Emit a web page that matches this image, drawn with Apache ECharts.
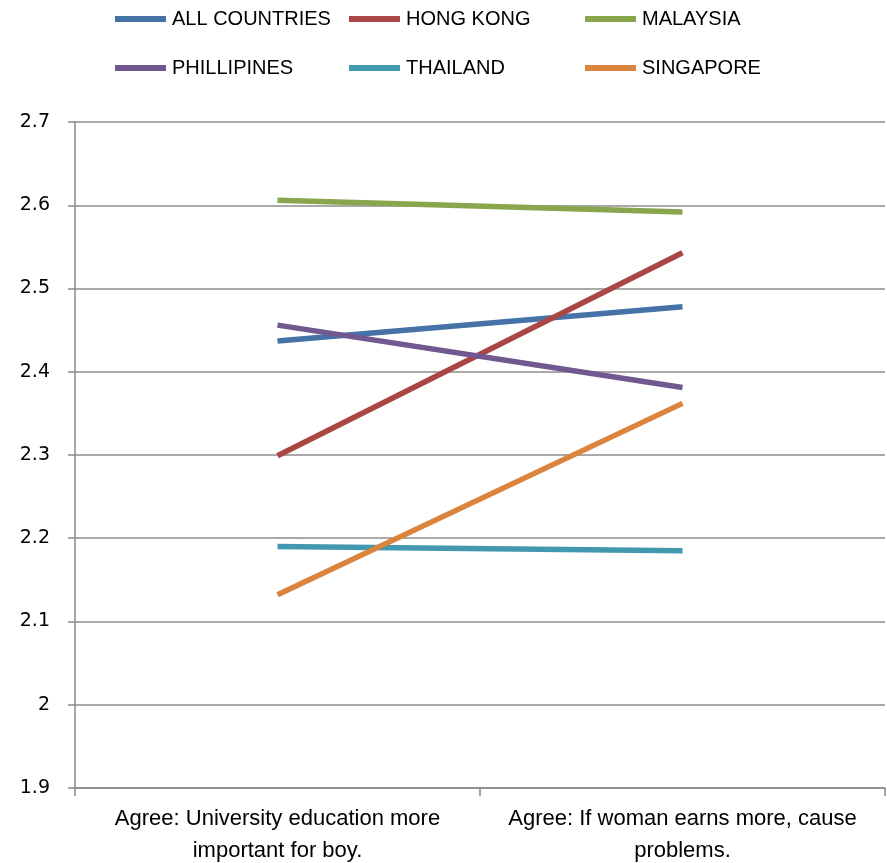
<!DOCTYPE html>
<html>
<head>
<meta charset="utf-8">
<script src="https://cdn.jsdelivr.net/npm/echarts@6/dist/echarts.min.js"></script>
<style>
  html, body { margin: 0; padding: 0; background: #fff; }
  #chart { width: 887px; height: 863px; }
</style>
</head>
<body>
<div id="chart"></div>
<script>
// Survey statements on the category axis
const categories = [
  'Agree: University education more\nimportant for boy.',
  'Agree: If woman earns more, cause\nproblems.'
];

// Mean agreement score per country group
const allCountries = [2.437, 2.478];
const hongKong     = [2.299, 2.543];
const malaysia     = [2.606, 2.592];
const phillipines  = [2.456, 2.381];
const thailand     = [2.190, 2.185];
const singapore    = [2.132, 2.362];

const yTicks = { min: 1.9, max: 2.7, interval: 0.1 };

const seriesDefs = [
  { name: 'ALL COUNTRIES', data: allCountries, color: '#4572A7' },
  { name: 'HONG KONG',     data: hongKong,     color: '#AA4643' },
  { name: 'MALAYSIA',      data: malaysia,     color: '#89A54E' },
  { name: 'PHILLIPINES',   data: phillipines,  color: '#71588F' },
  { name: 'THAILAND',      data: thailand,     color: '#4198AF' },
  { name: 'SINGAPORE',     data: singapore,    color: '#DB843D' }
];

const textFont = '"Liberation Sans", Arial, sans-serif';

// One legend entry per slot, laid out in a 3 x 2 grid
const legendCols = [110, 344, 580];
const legendRows = [4, 53];
const legends = seriesDefs.map((s, i) => ({
  data: [s.name],
  left: legendCols[i % 3],
  top: legendRows[Math.floor(i / 3)],
  icon: 'rect',
  itemWidth: 51,
  itemHeight: 6,
  itemGap: 0,
  selectedMode: false,
  textStyle: { fontFamily: textFont, fontSize: 20, color: '#000', padding: [0, 0, 0, 1] }
}));

const chart = echarts.init(document.getElementById('chart'), null, { renderer: 'canvas' });
chart.setOption({
  animation: false,
  backgroundColor: '#fff',
  legend: legends,
  grid: {
    left: 75, right: 2, top: 122, bottom: 75,
    containLabel: false, outerBoundsMode: 'none'
  },
  xAxis: {
    type: 'category',
    data: categories,
    boundaryGap: true,
    axisLine: { lineStyle: { color: '#888', width: 1.5 } },
    axisTick: { show: true, length: 8, lineStyle: { color: '#888', width: 1.5 } },
    axisLabel: {
      fontFamily: textFont, fontSize: 22, color: '#000',
      lineHeight: 32, margin: 15, interval: 0
    },
    splitLine: { show: false }
  },
  yAxis: {
    type: 'value',
    min: yTicks.min, max: yTicks.max, interval: yTicks.interval,
    axisLine: { show: true, lineStyle: { color: '#888', width: 1.5 } },
    axisTick: { show: true, length: 7, lineStyle: { color: '#888', width: 1.5 } },
    axisLabel: {
      fontFamily: '"DejaVu Sans", sans-serif', fontSize: 19, color: '#000', margin: 25,
      formatter: v => String(Math.round(v * 10) / 10)
    },
    splitLine: { show: true, lineStyle: { color: '#8c8c8c', width: 1.5 } }
  },
  series: seriesDefs.map(s => ({
    name: s.name,
    type: 'line',
    data: s.data,
    symbol: 'none',
    color: s.color,
    lineStyle: { color: s.color, width: 5.5 }
  }))
});
</script>
</body>
</html>
